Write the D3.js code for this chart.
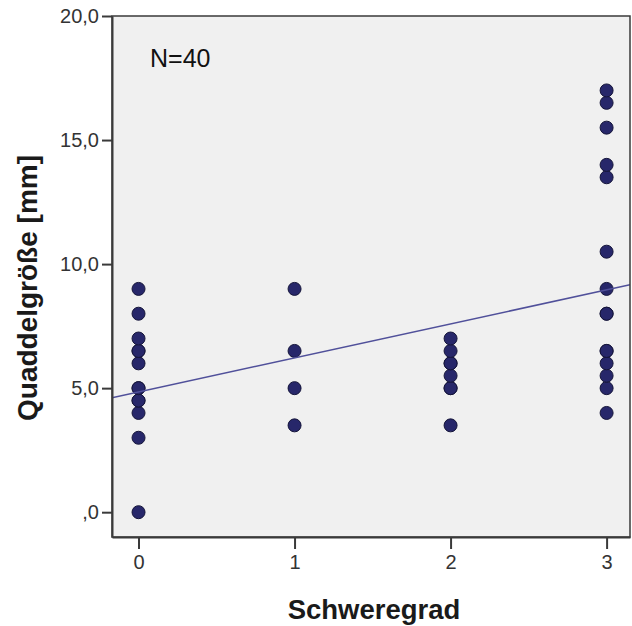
<!DOCTYPE html>
<html>
<head>
<meta charset="utf-8">
<script src="https://cdn.jsdelivr.net/npm/d3@7"></script>
<style>
  html, body { margin: 0; padding: 0; background: #ffffff; }
  svg { display: block; }
</style>
</head>
<body>
<svg id="chart" width="632" height="626"></svg>
<script>
// ---- data (N = 40) ----
const severity = [
  0,0,0,0,0,0,0,0,0,0,0,0,0,
  1,1,1,1,
  2,2,2,2,2,2,2,2,
  3,3,3,3,3,3,3,3,3,3,3,3,3,3,3
];
const wheal = [
  0,3,4,4.5,4.5,5,5,6,6.5,6.5,7,8,9,
  3.5,5,6.5,9,
  3.5,5,5,5.5,6,6,6.5,7,
  4,5,5.5,6,6.5,6.5,8,8,9,10.5,13.5,14,15.5,16.5,17
];
const xTicks = [0, 1, 2, 3];
const yTicks = [0, 5, 10, 15, 20];
const xTitle = "Schweregrad";
const yTitle = "Quaddelgröße [mm]";
const annotation = "N=40";

// ---- layout ----
const svg = d3.select("#chart");
const L = 112, R = 630, T = 16, B = 537;

const x = d3.scaleLinear().domain([-0.17, 3.15]).range([L, R]);
const y = d3.scaleLinear().domain([-1, 20]).range([B, T]);

const fmtY = v => v === 0 ? ",0" : d3.format(".1f")(v).replace(".", ",");

// plot background
svg.append("rect")
  .attr("x", L).attr("y", T).attr("width", R - L).attr("height", B - T)
  .attr("fill", "#f0f0f0");

svg.append("clipPath").attr("id", "clip")
  .append("rect").attr("x", L).attr("y", T).attr("width", R - L).attr("height", B - T);

// regression line (least squares from data)
const n = severity.length;
const mx = d3.mean(severity), my = d3.mean(wheal);
let sxy = 0, sxx = 0;
for (let i = 0; i < n; i++) {
  sxy += (severity[i] - mx) * (wheal[i] - my);
  sxx += (severity[i] - mx) * (severity[i] - mx);
}
const slope = sxy / sxx, intercept = my - slope * mx;
const xd = x.domain();

// points
svg.append("g").attr("clip-path", "url(#clip)")
  .selectAll("circle")
  .data(d3.range(n))
  .join("circle")
  .attr("cx", i => x(severity[i]))
  .attr("cy", i => y(wheal[i]))
  .attr("r", 6.5)
  .attr("fill", "#27276a")
  .attr("stroke", "#15153a")
  .attr("stroke-width", 1);

svg.append("line")
  .attr("clip-path", "url(#clip)")
  .attr("x1", x(xd[0])).attr("y1", y(intercept + slope * xd[0]))
  .attr("x2", x(xd[1])).attr("y2", y(intercept + slope * xd[1]))
  .attr("stroke", "#50509a")
  .attr("stroke-width", 1.5);

// frame
svg.append("rect")
  .attr("x", L).attr("y", T).attr("width", R - L).attr("height", B - T)
  .attr("fill", "none").attr("stroke", "#3a3a3a").attr("stroke-width", 1.5);

// axes
const yAxis = d3.axisLeft(y).tickValues(yTicks).tickFormat(fmtY)
  .tickSizeInner(10).tickSizeOuter(0).tickPadding(3);
const gy = svg.append("g").attr("transform", `translate(${L},0)`).call(yAxis);
const xAxis = d3.axisBottom(x).tickValues(xTicks).tickFormat(d3.format("d"))
  .tickSizeInner(12).tickSizeOuter(0).tickPadding(6);
const gx = svg.append("g").attr("transform", `translate(0,${B})`).call(xAxis);

[gy, gx].forEach(g => {
  g.select(".domain").attr("stroke", "#3a3a3a").attr("stroke-width", 2);
  g.selectAll(".tick line").attr("stroke", "#3a3a3a").attr("stroke-width", 2);
  g.selectAll(".tick text")
    .attr("fill", "#333333")
    .style("font-family", "Arial, 'Liberation Sans', sans-serif")
    .style("font-size", "20px");
});

// titles
svg.append("text")
  .attr("x", 374).attr("y", 619)
  .attr("text-anchor", "middle")
  .style("font-family", "Arial, 'Liberation Sans', sans-serif")
  .style("font-size", "27.5px").style("font-weight", "bold")
  .attr("fill", "#1a1a1a")
  .text(xTitle);

svg.append("text")
  .attr("transform", "translate(37,288) rotate(-90)")
  .attr("text-anchor", "middle")
  .style("font-family", "Arial, 'Liberation Sans', sans-serif")
  .style("font-size", "28px").style("font-weight", "bold")
  .attr("fill", "#1a1a1a")
  .text(yTitle);

// annotation
svg.append("text")
  .attr("x", 150).attr("y", 67)
  .style("font-family", "Arial, 'Liberation Sans', sans-serif")
  .style("font-size", "25px")
  .attr("fill", "#111111")
  .text(annotation);
</script>
</body>
</html>
